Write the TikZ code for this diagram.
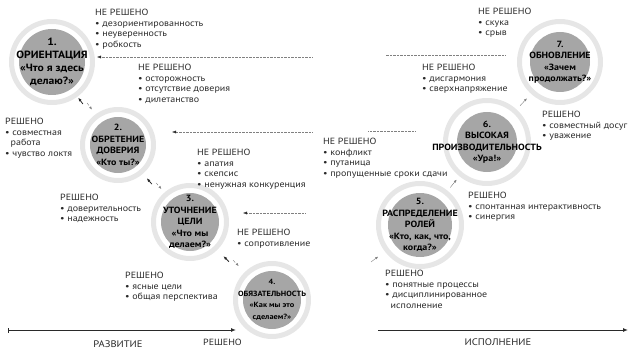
\documentclass[tikz,border=0pt]{standalone}
\usepackage{fontspec}
\setmainfont[FakeStretch=1.11]{PT Sans}
\usetikzlibrary{calc,arrows.meta}
\definecolor{discgray}{HTML}{A6A6A6}
\definecolor{halogray}{HTML}{E6E6E6}
\definecolor{ink}{HTML}{2A2A2A}
% stage: name, x, y, disc radius, halo radius, text
\newcommand\Stage[7][]{%
    \draw[line width=5pt,color=halogray] (#3,#4) circle[radius=#6pt-2.5pt];
    \fill[discgray] (#3,#4) circle[radius=#5pt];
    \node[stagetext,#1] (#2) at (#3,#4) {#7};
}
% back and forth between two stages
\newcommand\StepPair[2]{%
    \coordinate (mid) at ($(#1)!0.5!(#2)$);
    \coordinate (up) at ($(mid)!2pt!90:(#1)$);
    \coordinate (dn) at ($(mid)!2pt!-90:(#1)$);
    \draw[backstep] ($(up)!1pt!(#1)$) -- ($(up)!9pt!(#1)$);
    \draw[forstep] ($(dn)!1pt!(#2)$) -- ($(dn)!9pt!(#2)$);
}
\newcommand\StepOn[2]{%
    \coordinate (mid) at ($(#1)!0.5!(#2)$);
    \draw[onward] ($(mid)!-5pt!(#2)$) -- ($(mid)!5pt!(#2)$);
}

\begin{document}
\begin{tikzpicture}[x=1pt,y=-1pt,
    stagetext/.style={align=center,inner sep=0,text=black,
        font=\bfseries\fontsize{9}{11.5}\selectfont},
    notes/.style={anchor=north west,align=left,inner sep=0,text=ink,
        font=\fontsize{9}{10.5}\selectfont},
    regress/.style={densely dotted,color=gray,
        -{Latex[length=4pt,width=3pt,color=ink]}},
    backstep/.style={line width=0.8pt,color=ink,-{Latex[length=4pt,width=3pt]}},
    forstep/.style={densely dashed,color=gray,-{Latex[length=3pt,width=2.5pt]}},
    onward/.style={color=gray,-{Latex[length=3pt,width=2.5pt]}},
    axis/.style={line width=1pt,color=ink}]
    \useasboundingbox (0,0) rectangle (630,353);

    % stages
    \Stage[font=\bfseries\fontsize{10.5}{13}\selectfont]{stage1}{52}{62}{33}{43}{1.\\ОРИЕНТАЦИЯ\\«Что я здесь\\делаю?»}
    \Stage{stage2}{118}{145}{28}{38}{2.\\ОБРЕТЕНИЕ\\ДОВЕРИЯ\\«Кто ты?»}
    \Stage{stage3}{190}{222}{29}{39}{3.\\УТОЧНЕНИЕ\\ЦЕЛИ\\«Что мы\\делаем?»}
    \Stage[font=\bfseries\fontsize{7.5}{11.5}\selectfont]{stage4}{272}{300}{29}{39}{4.\\ОБЯЗАТЕЛЬНОСТЬ\\«Как мы это\\сделаем?»}
    \Stage{stage5}{420}{225}{32}{44}{5.\\РАСПРЕДЕЛЕНИЕ\\РОЛЕЙ\\«Кто, как, что,\\когда?»}
    \Stage{stage6}{487}{142}{30}{44}{6.\\ВЫСОКАЯ\\ПРОИЗВОДИТЕЛЬНОСТЬ\\«Ура!»}
    \Stage{stage7}{560}{62}{30}{43}{7.\\ОБНОВЛЕНИЕ\\«Зачем\\продолжать?»}

    \StepPair{stage1}{stage2}
    \StepPair{stage2}{stage3}
    \StepPair{stage3}{stage4}
    \StepOn{stage5}{stage6}
    \StepOn{stage6}{stage7}
    \coordinate (in5) at (371,262);
    \draw[onward] (in5) -- ($(in5)!9pt!(stage5)$);

    % unsolved
    \node[notes] (open1) at (95,9) {НЕ РЕШЕНО\\• дезориентированность\\• неуверенность\\• робкость};
    \node[notes] (open2) at (138,64) {НЕ РЕШЕНО\\• осторожность\\• отсутствие доверия\\• дилетанство};
    \node[notes] (open3) at (197,149) {НЕ РЕШЕНО\\• апатия\\• скепсис\\• ненужная конкуренция};
    \node[notes] (open4) at (237,229) {НЕ РЕШЕНО\\• сопротивление};
    \node[notes] (open5) at (323,138) {НЕ РЕШЕНО\\• конфликт\\• путаница\\• пропущенные сроки сдачи};
    \node[notes] (open6) at (422,64) {НЕ РЕШЕНО\\• дисгармония\\• сверхнапряжение};
    \node[notes] (open7) at (478,8) {НЕ РЕШЕНО\\• скука\\• срыв};

    % solved
    \node[notes] (done1) at (5,118) {РЕШЕНО\\• совместная\\\hspace*{5.5pt}работа\\• чувство локтя};
    \node[notes] (done2) at (60,194) {РЕШЕНО\\• доверительность\\• надежность};
    \node[notes] (done3) at (125,272) {РЕШЕНО\\• ясные цели\\• общая перспектива};
    \node[notes] (done4) at (203,339) {РЕШЕНО};
    \node[notes] (done5) at (468,192) {РЕШЕНО\\• спонтанная интерактивность\\• синергия};
    \node[notes] (done6) at (542,111) {РЕШЕНО\\• совместный досуг\\• уважение};
    \node[notes] (done7) at (385,270) {РЕШЕНО\\• понятные процессы\\• дисциплинированное\\\hspace*{5.5pt}исполнение};

    % falling back
    \coordinate (r1a) at (505,55);  \coordinate (r1b) at (385,55);
    \coordinate (r1c) at (312,57);  \coordinate (r1d) at (97,57);
    \draw[densely dotted,color=gray] (r1a) -- (r1b);
    \draw[regress] (r1c) -- (r1d);
    \coordinate (r2a) at (415,131); \coordinate (r2b) at (368,131);
    \coordinate (r2c) at (312,132); \coordinate (r2d) at (172,132);
    \draw[densely dotted,color=gray] (r2a) -- (r2b);
    \draw[regress] (r2c) -- (r2d);
    \coordinate (r3c) at (305,213); \coordinate (r3d) at (243,213);
    \draw[regress] (r3c) -- (r3d);

    % phases
    \coordinate (devA) at (8,330);   \coordinate (devB) at (236,330);
    \coordinate (runA) at (378,330); \coordinate (runB) at (628,330);
    \draw[axis,{Bar[width=5pt]}-{Latex[length=5pt,width=4pt]}] (devA) -- (devB);
    \draw[axis,-{Latex[length=5pt,width=4pt]}] (runA) -- (runB);
    \node[text=ink,font=\fontsize{9.5}{11}\selectfont] (develop) at (118,344) {РАЗВИТИЕ};
    \node[text=ink,font=\fontsize{9.5}{11}\selectfont] (perform) at (498,342) {ИСПОЛНЕНИЕ};
\end{tikzpicture}
\end{document}
